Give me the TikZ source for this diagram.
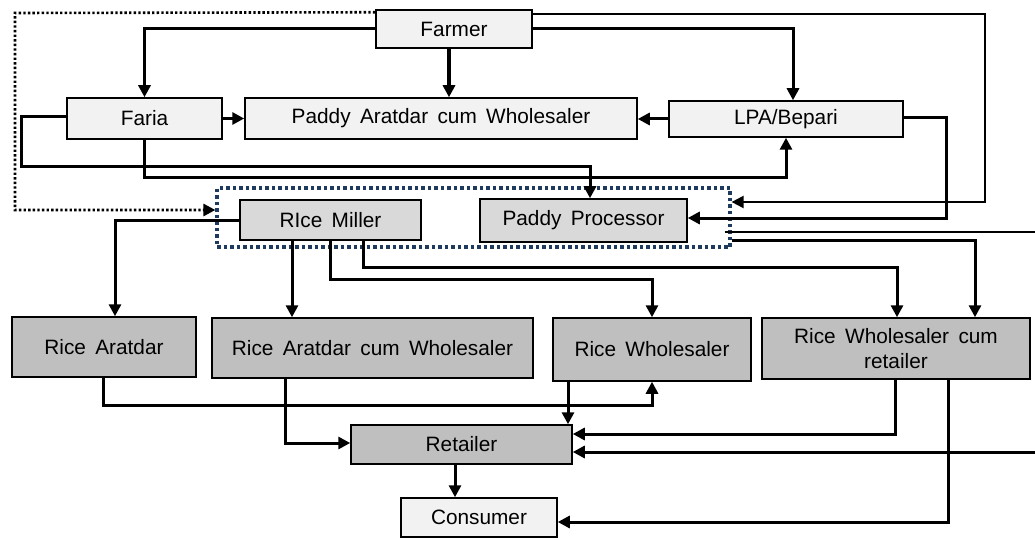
\documentclass[tikz,border=0pt]{standalone}
\usepackage{fontspec}
\setmainfont{Liberation Sans}
\usetikzlibrary{arrows.meta}
\definecolor{lightbox}{HTML}{F2F2F2}
\definecolor{midbox}{HTML}{D9D9D9}
\definecolor{darkbox}{HTML}{BFBFBF}
\definecolor{grpblue}{HTML}{1F3A5F}
\newcommand{\mybxfont}{\fontsize{20.8}{25}\selectfont\spaceskip=0.45em\relax}
\begin{document}
\begin{tikzpicture}[x=1pt,y=-1pt,
  box/.style={draw=black, line width=1.5pt, inner sep=0pt, align=center, font=\mybxfont},
  lbox/.style={box, fill=lightbox},
  mbox/.style={box, fill=midbox},
  dbox/.style={box, fill=darkbox},
  tip/.style={-{Triangle[length=12pt,width=12pt]}},
  thickc/.style={line width=3pt, tip},
  heavyc/.style={line width=4pt, tip},
  thinc/.style={line width=2.2pt, tip},
  thinline/.style={line width=2.2pt},
  dotc/.style={line width=2.6pt, dash pattern=on 2.4pt off 2.2pt, tip},
  grpbox/.style={draw=grpblue, line width=3.2pt, dash pattern=on 3.5pt off 3pt, inner sep=0pt}
]
\useasboundingbox (0,0) rectangle (1035,540);
\fill[white] (0,0) rectangle (1035,540);

% group
\node[grpbox, minimum width=513pt, minimum height=59pt] (grp) at (473.5,217.5) {};

% nodes
\node[lbox, minimum width=156pt, minimum height=38pt] (farmer) at (454,29) {Farmer};
\node[lbox, minimum width=155pt, minimum height=41pt] (faria) at (144.5,118.5) {Faria};
\node[lbox, minimum width=392pt, minimum height=41pt] (pa) at (441,118.5) {Paddy Aratdar cum Wholesaler};
\node[lbox, minimum width=234pt, minimum height=36pt] (lpa) at (786,119) {LPA/Bepari};
\node[mbox, minimum width=181pt, minimum height=40pt] (miller) at (330.5,220) {RIce Miller};
\node[mbox, minimum width=207pt, minimum height=43pt] (pp) at (583.5,220.5) {Paddy Processor};
\node[dbox, minimum width=184pt, minimum height=60pt] (ra) at (104,347) {Rice Aratdar};
\node[dbox, minimum width=321pt, minimum height=60pt] (racw) at (372.5,348) {Rice Aratdar cum Wholesaler};
\node[dbox, minimum width=198pt, minimum height=63pt] (rw) at (652,349.5) {Rice Wholesaler};
\node[dbox, minimum width=268pt, minimum height=61pt] (rwcr) at (896,348.5) {Rice Wholesaler cum\\retailer};
\node[dbox, minimum width=221pt, minimum height=39pt] (ret) at (461.5,444.5) {Retailer};
\node[lbox, minimum width=156pt, minimum height=39pt] (con) at (479,517.5) {Consumer};

\coordinate (edgeA) at (1035,232);
\coordinate (edgeB) at (1035,452);

% connectors from Farmer
\draw[thickc] (farmer.west) -| (faria.north);
\draw[heavyc] ([xshift=-5pt]farmer.south) -- ([xshift=-5pt]farmer.south |- pa.north);
\draw[thickc] (farmer.east) -| ([xshift=7pt]lpa.north);
\draw[thinc] ([yshift=15pt]farmer.east) -| (985,120) |- ([yshift=15.5pt]grp.east);
\draw[dotc] ([yshift=-3pt]farmer.north west) -- (15,13) -- (15,210) -- ([yshift=7.5pt]grp.west);

% second row
\draw[thickc] (faria.east) -- (pa.west);
\draw[thickc] (lpa.west) -- (lpa.west -| pa.east);
\draw[thickc] ([yshift=1.5pt]faria.west) -- (21,117) -- (21,167) -| ([xshift=6.5pt]pp.north);
\draw[thickc] (faria.south) |- (400,178) -| (lpa.south);
\draw[thickc] ([yshift=1pt]lpa.east) -| (946,170) |- ([yshift=2.5pt]pp.east);

% from the processing group
\draw[thinline] ([xshift=-7pt,yshift=-14.5pt]grp.east) -- (edgeA);
\draw[thickc] ([yshift=-22.5pt]grp.east) -| ([xshift=79pt]rwcr.north);
\draw[thickc] (miller.west) -| ([xshift=11pt]ra.north);
\draw[thickc] ([xshift=-38.5pt]miller.south) -- ([xshift=-38.5pt]miller.south |- racw.north);
\draw[thickc] ([xshift=-0.5pt]miller.south) |- (500,279) -| (rw.north);
\draw[thickc] ([xshift=32.5pt]miller.south) |- (600,267) -| ([xshift=1pt]rwcr.north);

% bottom
\draw[thickc] ([xshift=-1pt]ra.south) |- (400,405) -| (rw.south);
\draw[thickc] ([xshift=-87.5pt]racw.south) |- ([yshift=1.5pt]ret.west);
\draw[thickc] ([xshift=-84pt]rw.south) -- ([xshift=-84pt]rw.south |- ret.north);
\draw[thickc] ([xshift=-1pt]rwcr.south) |- ([yshift=10.5pt]ret.east);
\draw[thickc] (edgeB) -- (edgeB -| ret.east);
\draw[thickc] ([xshift=52pt]rwcr.south) |- ([yshift=-4.5pt]con.east);
\draw[thickc] ([xshift=-6.5pt]ret.south) -- ([xshift=-6.5pt]ret.south |- con.north);
\end{tikzpicture}
\end{document}
